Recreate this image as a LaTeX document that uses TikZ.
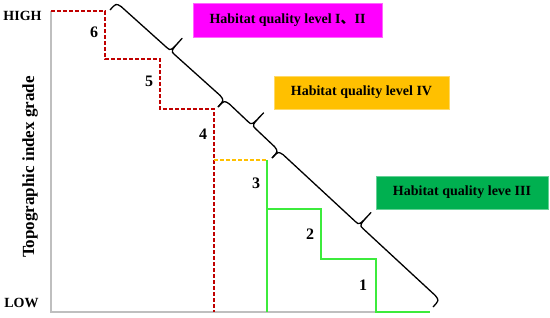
\documentclass[tikz,border=0pt]{standalone}
\usepackage{fontspec}
\setmainfont{Liberation Serif}
\newfontfamily\cjk{Noto Sans CJK SC}
\usetikzlibrary{calc}
\definecolor{stepred}{RGB}{192,0,0}
\definecolor{levelgold}{RGB}{255,192,0}
\definecolor{levelgreen}{RGB}{0,176,80}
\definecolor{stepgreen}{RGB}{60,235,60}
\definecolor{levelpink}{RGB}{255,0,255}
\definecolor{axisgray}{RGB}{191,191,191}
% 大括号: #1 起点, #2 终点
\newcommand{\levelbrace}[2]{%
  \path (#1) coordinate (bs) (#2) coordinate (be) ($(#1)!0.5!(#2)$) coordinate (bm);
  \path ($(bs)!6pt!(be)$) coordinate (s1) ($(bm)!5pt!(bs)$) coordinate (m1)
        ($(bm)!5pt!(be)$) coordinate (m2) ($(be)!6pt!(bs)$) coordinate (e1);
  \draw[bracestyle] (bs) .. controls ($(bs)!9pt!90:(be)$) .. ($(s1)!10pt!90:(be)$)
    -- ($(m1)!10pt!90:(be)$) .. controls ($(bm)!10pt!90:(be)$) .. ($(bm)!27pt!90:(be)$)
    .. controls ($(bm)!10pt!90:(be)$) .. ($(m2)!10pt!90:(be)$)
    -- ($(e1)!10pt!-90:(bs)$) .. controls ($(be)!9pt!-90:(bs)$) .. (be);
}
\begin{document}
\begin{tikzpicture}[x=1pt, y=-1pt,
    levelbox/.style={rectangle, minimum height=33pt, inner sep=0pt, font=\fontsize{14}{14}\selectfont\bfseries},
    stepnum/.style={font=\fontsize{16}{16}\selectfont\bfseries},
    axislabel/.style={font=\fontsize{14}{14}\selectfont\bfseries},
    dashstep/.style={line width=1.2pt, dash pattern=on 4pt off 2pt},
    bracestyle/.style={line width=1.3pt, line join=round}]
    \useasboundingbox (0,0) rectangle (550,317);

    % 坐标轴
    \coordinate (top) at (51,11);
    \coordinate (O) at (51,312);
    \coordinate (end) at (430,312);
    \draw[axisgray, line width=1.5pt] (top) -- (O) -- (end);
    \node[axislabel] (high) at (22.5,16) {HIGH};
    \node[axislabel] (low) at (21.5,303) {LOW};
    \node[font=\fontsize{17}{17}\selectfont\bfseries, rotate=90] (ylab) at (30,167) {Topographic index grade};

    % 等级 4--6
    \draw[dashstep, stepred] (top) -- (105,11) -- (105,59) -- (160,59) -- (160,109) -- (214,109) -- (214,312);
    \draw[dashstep, levelgold] (214,160) -- (267,160);

    % 等级 1--3
    \draw[stepgreen, line width=1.3pt] (267,160) -- (267,312);
    \draw[stepgreen, line width=1.3pt] (267,209) -- (321,209) -- (321,259) -- (376,259) -- (376,312) -- (end);

    \node[stepnum] (g6) at (94,32) {6};
    \node[stepnum] (g5) at (149,81) {5};
    \node[stepnum] (g4) at (203,134) {4};
    \node[stepnum] (g3) at (256,183) {3};
    \node[stepnum] (g2) at (310,234) {2};
    \node[stepnum] (g1) at (363,285) {1};

    % 大括号
    \coordinate (b0) at (110,10);
    \coordinate (b1) at (218,107);
    \coordinate (b2) at (272,158);
    \coordinate (b3) at (433,307);
    \levelbrace{b0}{b1}
    \levelbrace{b1}{b2}
    \levelbrace{b2}{b3}

    % 生境质量等级
    \node[levelbox, fill=levelpink, draw=levelpink!60, minimum width=189pt, minimum height=34pt] (lv12) at (287.5,20) {Habitat quality level I{\cjk 、}II};
    \node[levelbox, fill=levelgold, draw=levelgold!60, minimum width=175pt] (lv4) at (361.5,92.5) {Habitat quality level IV};
    \node[levelbox, fill=levelgreen, draw=levelgreen!60, minimum width=172pt] (lv3) at (462,192.5) {Habitat quality leve III};
\end{tikzpicture}
\end{document}
